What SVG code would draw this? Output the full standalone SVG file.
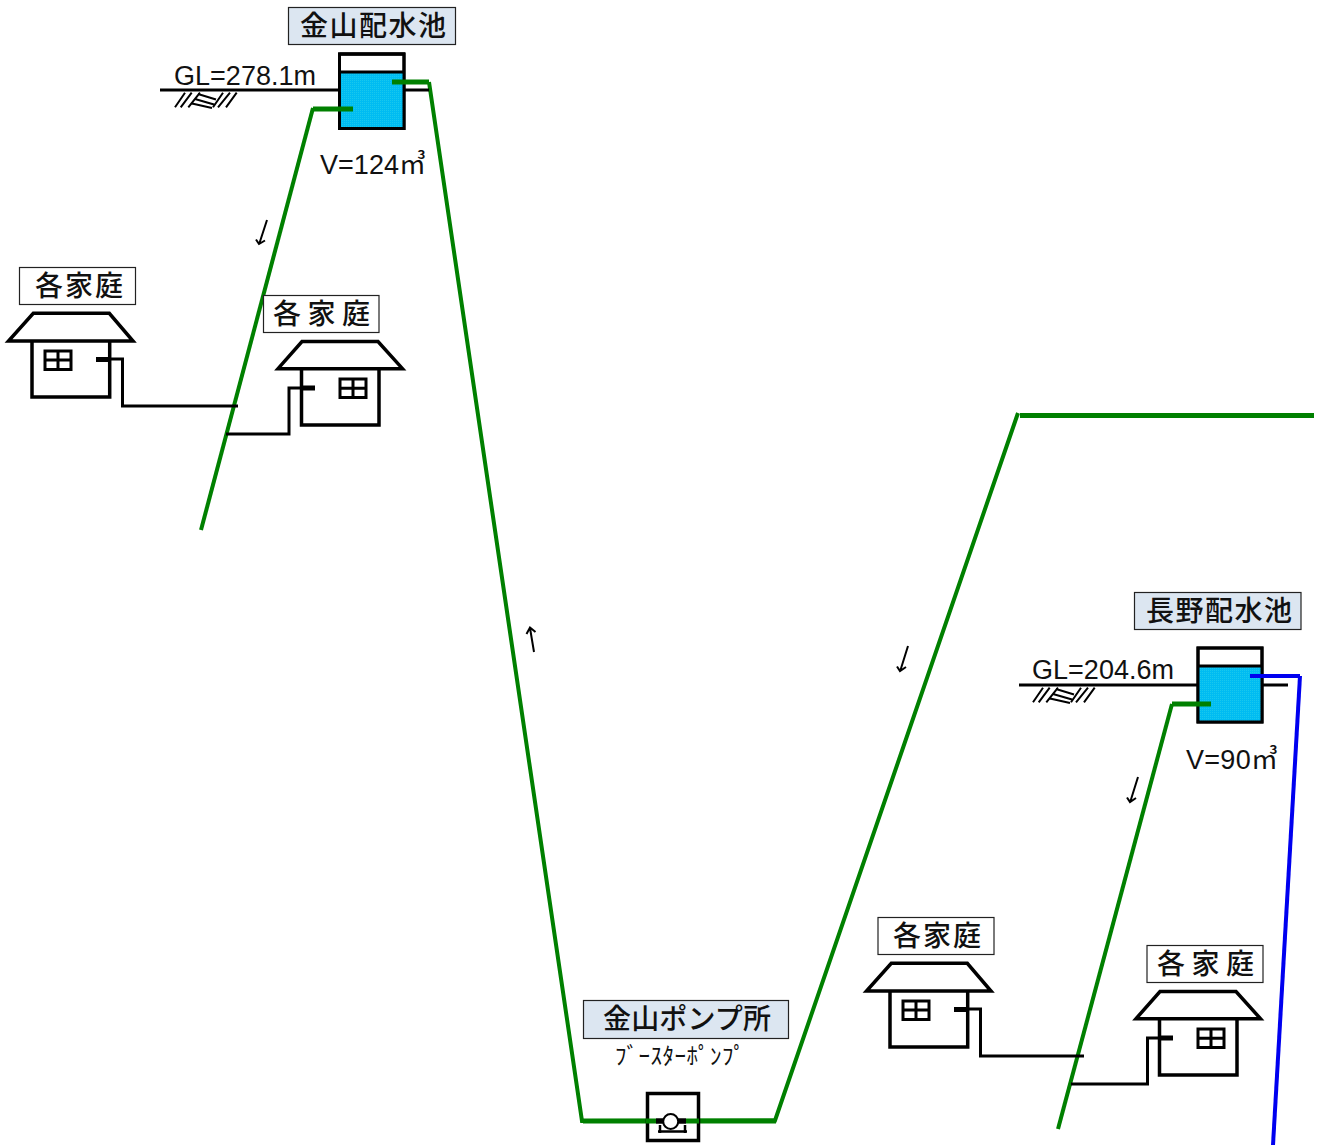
<svg xmlns="http://www.w3.org/2000/svg" xmlns:xlink="http://www.w3.org/1999/xlink" width="1319" height="1145" viewBox="0 0 1319 1145">
<style>
text{font-family:"Liberation Sans","Noto Sans CJK JP",sans-serif;fill:#111}
.jp{font-family:"Noto Sans CJK JP","Noto Sans CJK SC",sans-serif;font-size:28px;font-weight:500}
.lat{font-size:27px}
.sm{font-family:"Noto Sans CJK JP",sans-serif;font-size:23px}
.lb{fill:#dce6f1;stroke:#222;stroke-width:1.2}
.lw{fill:#fff;stroke:#222;stroke-width:1.2}
.k{fill:none;stroke:#000;stroke-width:3}
.h{fill:#fff;stroke:#000;stroke-width:3.5;stroke-linejoin:miter}
.g{fill:none;stroke:#008000;stroke-width:4}
.gs{fill:none;stroke:#008000;stroke-width:5}
.bl{fill:none;stroke:#0000f0;stroke-width:4}
.t{fill:none;stroke:#000;stroke-width:2}
.a{fill:none;stroke:#000;stroke-width:2}
.tap{fill:#000}
</style>
<defs>
<pattern id="w" width="2" height="2" patternUnits="userSpaceOnUse"><rect width="2" height="2" fill="#00bcf2"/><rect width="1" height="1" fill="#18c8ee"/></pattern>
<g id="hatch" class="t">
<path d="M185 92.700L175 107.300M191.700 92.700L180.700 107.300M200 92.700L188.300 107.300M198 94L216 99.500M195 99L214 104.500M192 103.500L212 108M223 92.700L213 107.300M230 92.700L218 107.300M236.700 92.700L226 107.300"/>
</g>
<g id="house">
<path class="h" d="M32 341V397H109.700V341"/>
<path class="h" d="M33.300 313.300H109.300L133 341H8.500Z"/>
<rect x="45" y="351" width="26" height="18.500" class="k"/>
<path class="k" d="M58 351V369.500M45 360H71"/>
</g>
<g id="house2">
<path class="h" d="M301.500 369V425H379V369"/>
<path class="h" d="M302 341.500H378L402.500 368.700H278Z"/>
<rect x="340" y="379" width="26" height="18.500" class="k"/>
<path class="k" d="M353 379V397.500M340 388.300H366"/>
</g>
</defs>

<g id="connectors">
<path class="g" d="M201 530L313 108"/>
<path class="g" d="M429 82L582 1121L775 1120.500L1018 413"/>
<path class="gs" d="M1020 415.500H1314"/>
<path class="gs" d="M583 1121H656M686 1121H776"/>
<path class="g" d="M1172 704L1058 1129"/>
<path class="bl" d="M1300 676L1273 1145"/>
<path class="k" d="M109 359H122.500V406H238"/>
<path class="k" d="M302 388H289V434H226"/>
<path class="k" d="M967 1009H980.500V1056H1084"/>
<path class="k" d="M1160 1038H1147.500V1084H1071"/>
<path class="a" d="M267 220L259.500 243M256 239.500L259 244L265 240.500"/>
<path class="a" d="M534 652L530 628M526.500 634L530 627.500L535.500 632"/>
<path class="a" d="M908 646L900.500 670M897 666.500L900 671L906 667"/>
<path class="a" d="M1138 777L1130.500 801M1127 797.500L1130 802L1136 798"/>
</g>

<g id="kanayama-tank">
<rect x="288.500" y="7.500" width="167" height="37" class="lb"/>
<text class="jp" x="300" y="36" textLength="146">金山配水池</text>
<path class="k" d="M160 90H340M404 90H429"/>
<use xlink:href="#hatch"/>
<rect x="339.500" y="54" width="64.500" height="74.500" fill="#fff" class="k"/>
<rect x="340.500" y="72" width="62.500" height="55.500" fill="url(#w)"/>
<path class="k" d="M339.500 72H405M339.500 54H405"/>
<rect x="339.500" y="54" width="64.500" height="74.500" class="k"/>
<path class="gs" d="M392 82H429"/>
<path class="gs" d="M313 109H353"/>
<text class="lat" x="174" y="85" textLength="142">GL=278.1m</text>
<text class="lat" x="320" y="174" textLength="106">V=124㎥</text>
</g>

<g id="house-a">
<rect x="19.500" y="267.500" width="116" height="37" class="lw"/>
<text class="jp" x="35" y="296" textLength="88">各家庭</text>
<use xlink:href="#house"/>
<rect class="tap" x="96" y="357" width="14" height="5"/>
</g>
<g id="house-b">
<rect x="263.500" y="295.500" width="115.500" height="37" class="lw"/>
<text class="jp" x="273" y="324" textLength="97">各家庭</text>
<use xlink:href="#house2"/>
<rect class="tap" x="302" y="385.500" width="13" height="5"/>
</g>

<g id="kanayama-pump">
<rect x="583.500" y="1000.500" width="205" height="38" class="lb"/>
<text class="jp" x="603" y="1029" textLength="168">金山ポンプ所</text>
<text class="sm" x="615" y="1064" textLength="130">ﾌﾞｰｽﾀｰﾎﾟﾝﾌﾟ</text>
<rect x="647.500" y="1093.500" width="51" height="47" fill="#fff" stroke="#000" stroke-width="3.500"/>
<path class="gs" d="M646 1121H656M686 1121H699"/>
<path d="M656 1121H686" stroke="#000" stroke-width="5.500" fill="none"/>
<circle cx="670.700" cy="1121.500" r="7.500" fill="#fff" stroke="#000" stroke-width="2"/>
<path d="M658 1131.500H687M660 1125V1133M685 1125V1133" fill="none" stroke="#000" stroke-width="2.500"/>
</g>

<g id="nagano-tank">
<rect x="1134.500" y="592.500" width="166.500" height="37" class="lb"/>
<text class="jp" x="1146" y="621" textLength="146">長野配水池</text>
<path class="k" d="M1019 685H1198M1262 685H1288"/>
<use xlink:href="#hatch" transform="translate(858 595)"/>
<rect x="1198" y="648" width="64" height="74" fill="#fff" class="k"/>
<rect x="1199" y="666" width="62" height="55" fill="url(#w)"/>
<path class="k" d="M1198 666H1262"/>
<rect x="1198" y="648" width="64" height="74" class="k"/>
<path class="bl" d="M1250 676H1300"/>
<path class="gs" d="M1172 704H1211"/>
<text class="lat" x="1032" y="679" textLength="142">GL=204.6m</text>
<text class="lat" x="1186" y="769" textLength="92">V=90㎥</text>
</g>

<g id="house-c">
<rect x="878" y="917.500" width="116" height="37" class="lw"/>
<text class="jp" x="893" y="946" textLength="88">各家庭</text>
<use xlink:href="#house" transform="translate(858 650)"/>
<rect class="tap" x="954" y="1007" width="14" height="5"/>
</g>
<g id="house-d">
<rect x="1147" y="945.500" width="116" height="37" class="lw"/>
<text class="jp" x="1157" y="974" textLength="97">各家庭</text>
<use xlink:href="#house2" transform="translate(858 650)"/>
<rect class="tap" x="1160" y="1035.500" width="13" height="5"/>
</g>
</svg>
